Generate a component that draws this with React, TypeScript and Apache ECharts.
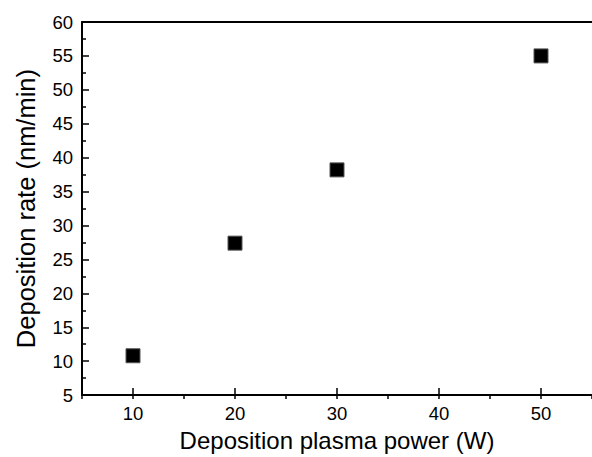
import React, { useEffect, useRef } from "react";
import * as echarts from "echarts";

const powerW = [10, 20, 30, 50];
const rateNmMin = [10.8, 27.4, 38.2, 55.0];
const xTitle = "Deposition plasma power (W)";
const yTitle = "Deposition rate (nm/min)";

const FONT = "'Liberation Sans', Arial, sans-serif";

export default function App() {
  const ref = useRef<HTMLDivElement>(null);
  useEffect(() => {
    if (!ref.current) return;
    const chart = echarts.init(ref.current, undefined, { renderer: "svg" });
    const grid = { left: 82, right: -3, top: 22, bottom: 58 };
    chart.setOption({
      animation: false,
      backgroundColor: "#ffffff",
      grid: [grid, { ...grid }],
      xAxis: [
        {
          type: "value",
          gridIndex: 0,
          position: "bottom",
          min: 5,
          max: 55,
          splitNumber: 5,
          name: xTitle,
          nameLocation: "middle",
          nameGap: 31,
          nameTextStyle: { fontSize: 24, color: "#000", fontFamily: FONT },
          axisLine: { show: true, lineStyle: { color: "#000", width: 2 } },
          axisTick: { show: true, inside: true, length: 7, lineStyle: { color: "#000", width: 1.5 } },
          axisLabel: {
            show: true,
            margin: 9,
            fontSize: 18.5,
            color: "#000",
            fontFamily: FONT,
            showMinLabel: false,
            showMaxLabel: false,
          },
          splitLine: { show: false },
        },
        {
          type: "value",
          gridIndex: 0,
          position: "top",
          min: 5,
          max: 55,
          axisLine: { show: true, lineStyle: { color: "#000", width: 2 } },
          axisTick: { show: false },
          axisLabel: { show: false },
          splitLine: { show: false },
        },
        {
          type: "value",
          gridIndex: 1,
          position: "bottom",
          min: 5,
          max: 55,
          interval: 5,
          axisLine: { show: false },
          axisTick: { show: true, inside: true, length: 4, lineStyle: { color: "#000", width: 1.5 } },
          axisLabel: { show: false },
          splitLine: { show: false },
        },
      ],
      yAxis: [
        {
          type: "value",
          gridIndex: 0,
          min: 5,
          max: 60,
          interval: 5,
          name: yTitle,
          nameLocation: "middle",
          nameGap: 43,
          nameTextStyle: { fontSize: 25.5, color: "#000", fontFamily: FONT },
          axisLine: { show: true, lineStyle: { color: "#000", width: 2 } },
          axisTick: { show: true, inside: true, length: 7, lineStyle: { color: "#000", width: 1.5 } },
          minorTick: { show: true, splitNumber: 2, length: 4, lineStyle: { color: "#000", width: 1.5 } },
          axisLabel: { show: true, margin: 9, fontSize: 18.5, color: "#000", fontFamily: FONT },
          splitLine: { show: false },
          minorSplitLine: { show: false },
        },
        {
          type: "value",
          gridIndex: 1,
          min: 5,
          max: 60,
          show: false,
        },
      ],
      series: [
        {
          type: "scatter",
          xAxisIndex: 0,
          yAxisIndex: 0,
          symbol: "rect",
          symbolSize: 14,
          itemStyle: { color: "#000", opacity: 1, borderColor: "#555", borderWidth: 1 },
          data: powerW.map((x, i) => [x, rateNmMin[i]]),
        },
      ],
    });
    return () => chart.dispose();
  }, []);
  return (
    <div
      ref={ref}
      style={{ position: "fixed", left: 0, top: 0, width: 592, height: 457 }}
    />
  );
}
